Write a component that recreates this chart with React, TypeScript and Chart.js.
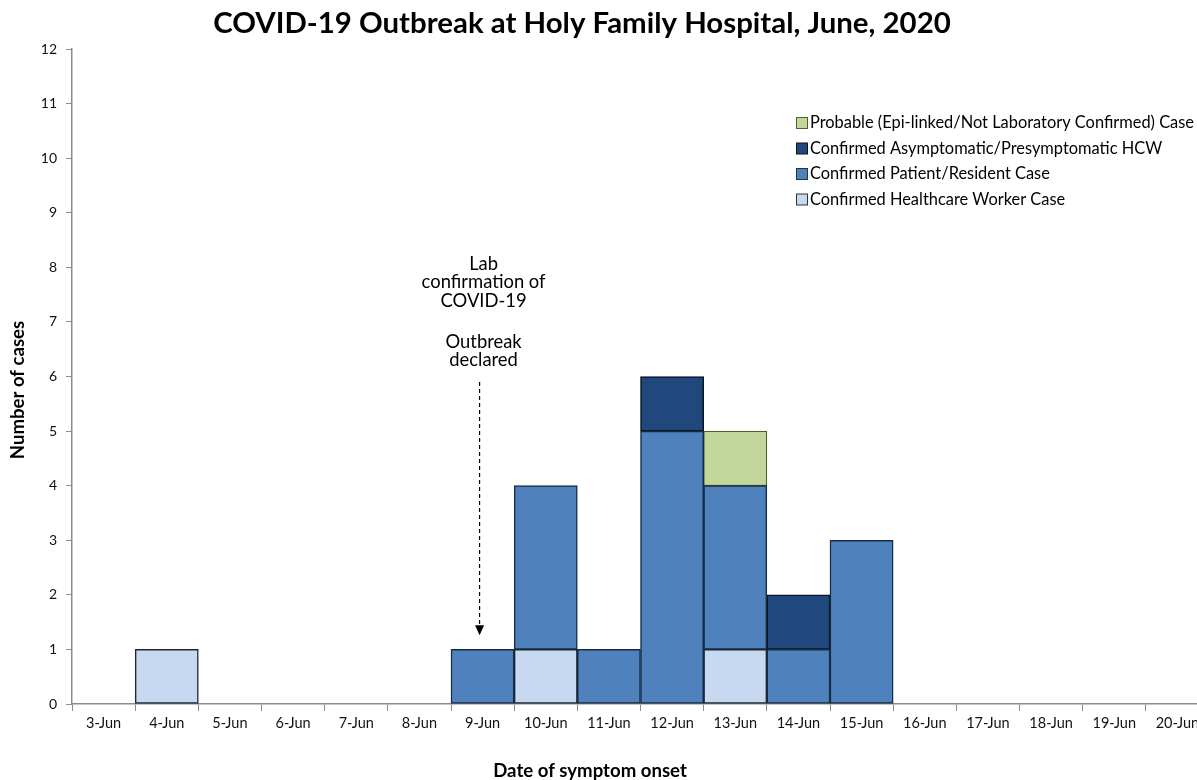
import React, { useEffect, useRef } from "react";
import { Chart, registerables } from "chart.js";

Chart.register(...registerables);

const categories = [
  "3-Jun", "4-Jun", "5-Jun", "6-Jun", "7-Jun", "8-Jun", "9-Jun", "10-Jun", "11-Jun",
  "12-Jun", "13-Jun", "14-Jun", "15-Jun", "16-Jun", "17-Jun", "18-Jun", "19-Jun", "20-Jun",
];
const healthcareWorkerCases = [0, 1, 0, 0, 0, 0, 0, 1, 0, 0, 1, 0, 0, 0, 0, 0, 0, 0];
const patientResidentCases = [0, 0, 0, 0, 0, 0, 1, 3, 1, 5, 3, 1, 3, 0, 0, 0, 0, 0];
const asymptomaticHcwCases = [0, 0, 0, 0, 0, 0, 0, 0, 0, 1, 0, 1, 0, 0, 0, 0, 0, 0];
const probableCases = [0, 0, 0, 0, 0, 0, 0, 0, 0, 0, 1, 0, 0, 0, 0, 0, 0, 0];

const seriesLabels = [
  "Confirmed Healthcare Worker Case",
  "Confirmed Patient/Resident Case",
  "Confirmed Asymptomatic/Presymptomatic HCW",
  "Probable (Epi-linked/Not Laboratory Confirmed) Case",
];

const yMin = 0;
const yMax = 12;
const yStep = 1;

const chartTitle = "COVID-19 Outbreak at Holy Family Hospital, June, 2020";
const xAxisTitle = "Date of symptom onset";
const yAxisTitle = "Number of cases";

const annotationLines = ["Lab", "confirmation of", "COVID-19", "", "Outbreak", "declared"];
const annotationCategory = "9-Jun";
const arrowFromValue = 5.9;
const arrowToValue = 1.26;

const FONT = "Lato, 'Open Sans', sans-serif";

const toBars = (arr: number[]) => arr.map((v) => (v === 0 ? null : v));

const overlayPlugin = {
  id: "overlay",
  afterDraw(chart: any) {
    const { ctx, scales } = chart;
    const x = scales.x;
    const y = scales.y;
    ctx.save();

    // Title
    ctx.fillStyle = "#000";
    ctx.textAlign = "center";
    ctx.textBaseline = "alphabetic";
    ctx.font = `bold 29.4px ${FONT}`;
    ctx.fillText(chartTitle, 582, 33);

    // X axis title
    ctx.font = `bold 18.6px ${FONT}`;
    ctx.fillText(xAxisTitle, 590, 777);

    // Y axis title
    ctx.save();
    ctx.translate(18, 390);
    ctx.rotate(-Math.PI / 2);
    ctx.textBaseline = "middle";
    ctx.font = `bold 18.6px ${FONT}`;
    ctx.fillText(yAxisTitle, 0, 0);
    ctx.restore();

    // Annotation
    const idx = categories.indexOf(annotationCategory);
    const cx = x.getPixelForValue(idx) + 1;
    const ax = cx - 4;
    const yTop = y.getPixelForValue(arrowFromValue);
    const yTip = y.getPixelForValue(arrowToValue);
    ctx.font = `18.4px ${FONT}`;
    ctx.textBaseline = "middle";
    ctx.fillStyle = "#000";
    let ty = yTop - 118;
    for (const line of annotationLines) {
      if (line === "") {
        ty += 22.5;
        continue;
      }
      ctx.fillText(line, cx, ty);
      ty += 18.5;
    }
    ctx.strokeStyle = "#000";
    ctx.lineWidth = 1.2;
    ctx.setLineDash([4, 3]);
    ctx.beginPath();
    ctx.moveTo(ax, yTop);
    ctx.lineTo(ax, yTip - 9);
    ctx.stroke();
    ctx.setLineDash([]);
    ctx.beginPath();
    ctx.moveTo(ax - 4.5, yTip - 10);
    ctx.lineTo(ax + 4.5, yTip - 10);
    ctx.lineTo(ax, yTip);
    ctx.closePath();
    ctx.fill();

    // Legend (reverse dataset order)
    const ds = chart.data.datasets;
    ctx.font = `16.4px ${FONT}`;
    ctx.textAlign = "left";
    ctx.textBaseline = "middle";
    const rows = [123, 148.5, 174, 199.5];
    for (let i = 0; i < ds.length; i++) {
      const d = ds[ds.length - 1 - i];
      const ry = rows[i];
      ctx.fillStyle = d.backgroundColor;
      ctx.fillRect(796.5, ry - 5.5, 11, 11);
      ctx.strokeStyle = d.legendBorder;
      ctx.lineWidth = 1;
      ctx.strokeRect(796.5, ry - 5.5, 11, 11);
      ctx.fillStyle = "#000";
      ctx.fillText(d.label, 810, ry);
    }
    ctx.restore();
  },
};

export default function App() {
  const ref = useRef<HTMLCanvasElement | null>(null);
  useEffect(() => {
    if (!ref.current) return;
    const common = {
      borderWidth: 1.5,
      borderSkipped: false,
      categoryPercentage: 1.0,
      barPercentage: 1.0,
    };
    const chart = new Chart(ref.current, {
      type: "bar",
      data: {
        labels: categories,
        datasets: [
          {
            label: seriesLabels[0],
            data: toBars(healthcareWorkerCases),
            backgroundColor: "#C6D9F1",
            borderColor: "#1c2633",
            legendBorder: "#333",
            ...common,
          } as any,
          {
            label: seriesLabels[1],
            data: toBars(patientResidentCases),
            backgroundColor: "#4F81BD",
            borderColor: "#172c45",
            legendBorder: "#1f3550",
            ...common,
          } as any,
          {
            label: seriesLabels[2],
            data: toBars(asymptomaticHcwCases),
            backgroundColor: "#1F497D",
            borderColor: "#0b1522",
            legendBorder: "#111",
            ...common,
          } as any,
          {
            label: seriesLabels[3],
            data: toBars(probableCases),
            backgroundColor: "#C3D69B",
            borderColor: "#4F6228",
            legendBorder: "#4F6228",
            ...common,
            borderWidth: 1.2,
          } as any,
        ],
      },
      options: {
        animation: false,
        responsive: false,
        devicePixelRatio: 1,
        layout: { padding: { left: 0, top: 49, right: 6, bottom: 0 } },
        plugins: {
          legend: { display: false },
          title: { display: false },
          tooltip: { enabled: false },
        },
        scales: {
          x: {
            stacked: true,
            offset: true,
            grid: {
              offset: true,
              drawOnChartArea: false,
              drawTicks: true,
              tickLength: 7,
              color: "#8c8c8c",
            },
            border: { display: true, color: "#8c8c8c", width: 1.5 },
            ticks: {
              color: "#111",
              font: { family: FONT, size: 14.5 },
              padding: 4,
              maxRotation: 0,
              autoSkip: false,
            },
            afterFit: (s: any) => {
              s.height = 76;
            },
          },
          y: {
            stacked: true,
            min: yMin,
            max: yMax,
            grid: {
              drawOnChartArea: false,
              drawTicks: true,
              tickLength: 6,
              color: "#8c8c8c",
            },
            border: { display: true, color: "#8c8c8c", width: 1.5 },
            ticks: {
              stepSize: yStep,
              color: "#111",
              font: { family: FONT, size: 14 },
              padding: 9,
            },
            afterFit: (s: any) => {
              s.width = 72;
            },
          },
        },
      },
      plugins: [overlayPlugin],
    } as any);
    return () => chart.destroy();
  }, []);
  return (
    <div
      style={{
        position: "fixed",
        left: 0,
        top: 0,
        width: 1197,
        height: 780,
        overflow: "hidden",
        background: "#fff",
      }}
    >
      <canvas ref={ref} width={1215} height={780} style={{ display: "block" }} />
    </div>
  );
}
